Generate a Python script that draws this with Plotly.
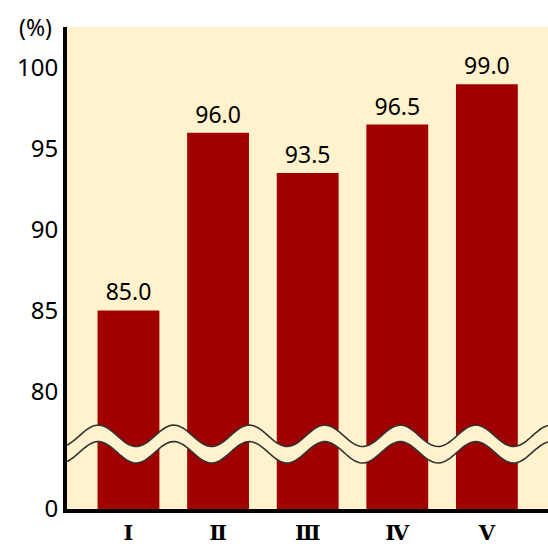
import numpy as np
import plotly.graph_objects as go

categories = ["Ⅰ", "Ⅱ", "Ⅲ", "Ⅳ", "Ⅴ"]
values = [85.0, 96.0, 93.5, 96.5, 99.0]
tick_values = [80, 85, 90, 95, 100]
tick_labels = ["80", "85", "90", "95", "100"]

BAR = "#A00000"
BG = "#FFF2CC"

# broken axis: the bottom of the plot represents 0
y_bottom, y_top = 72.71, 102.54
x_pos = list(range(len(categories)))

L, T, B = 67, 27, 37
FW, FH = 548, 546

fig = go.Figure()
fig.add_trace(go.Bar(
    x=x_pos, y=values, width=0.69,
    marker=dict(color=BAR, line=dict(width=0)),
    text=[f"{v:.1f}" for v in values], textposition="outside",
    textfont=dict(family="Noto Sans", size=23, color="black"),
    cliponaxis=False, hoverinfo="skip",
))

# wavy break band (decoration, in paper coords)
W, H = float(FW - L), float(FH - T - B)
px = np.linspace(L, FW, 241)
phase = 2 * np.pi * (px - 98.3) / 75.5
amp = 10.7
up_py = 435.8 - amp * np.cos(phase)
lo_py = 452.3 - amp * np.cos(phase)
xp = (px - L) / W
up_y = (FH - B - up_py) / H
lo_y = (FH - B - lo_py) / H

def pts(xs, ys):
    return " L".join(f"{a:.4f},{b:.4f}" for a, b in zip(xs, ys))

fill_path = "M" + pts(xp, up_y) + " L" + pts(xp[::-1], lo_y[::-1]) + " Z"
fig.add_shape(type="path", path=fill_path, xref="paper", yref="paper",
              fillcolor=BG, line=dict(width=0), layer="above")
for yy in (up_y, lo_y):
    fig.add_shape(type="path", path="M" + pts(xp, yy), xref="paper", yref="paper",
                  line=dict(color="#333333", width=1.6), layer="above")

fig.add_annotation(text="(%)", xref="paper", yref="paper", x=-0.027, y=1.0,
                   xanchor="right", yanchor="middle", showarrow=False,
                   font=dict(family="Noto Sans", size=23, color="black"))

fig.update_layout(
    width=FW, height=FH,
    margin=dict(l=L, r=0, t=T, b=B, pad=0, autoexpand=False),
    paper_bgcolor="white", plot_bgcolor=BG,
    showlegend=False,
    xaxis=dict(range=[-0.686, 4.682], tickmode="array", tickvals=x_pos, ticktext=categories,
               showline=True, linecolor="black", linewidth=4, showgrid=False, zeroline=False,
               ticks="", tickfont=dict(family="DejaVu Serif", size=21, color="black", weight="bold"),
               ticklabelstandoff=2, automargin=False, fixedrange=True),
    yaxis=dict(range=[y_bottom, y_top], tickmode="array",
               tickvals=[y_bottom + 0.01] + tick_values, ticktext=["0"] + tick_labels,
               showline=True, linecolor="black", linewidth=4, showgrid=False, zeroline=False,
               ticks="", tickfont=dict(family="Noto Sans", size=24, color="black"),
               automargin=False, fixedrange=True),
)

fig.write_html("out.html", config={"displayModeBar": False},
               post_script="document.body.style.margin='0';document.body.style.overflow='hidden';")
